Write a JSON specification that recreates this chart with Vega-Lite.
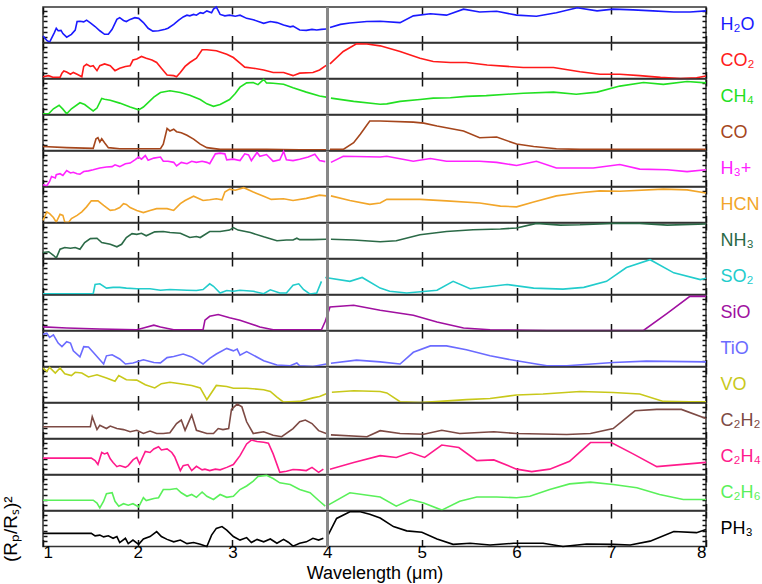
{
"$schema": "https://vega.github.io/schema/vega-lite/v6.json",
"padding": {"left": 0, "top": 3, "right": 0, "bottom": 0},
"spacing": 0,
"bounds": "flush",
"config": {
 "font": "Liberation Sans",
 "view": {"stroke": "#333", "strokeWidth": 1.5},
 "concat": {"spacing": 0},
 "axis": {"domain": false, "grid": false, "minExtent": 0, "tickColor": "#111", "tickWidth": 1.5, "labelFontSize": 17, "labelColor": "#000", "titleFontSize": 18, "titleFontWeight": "normal", "titleColor": "#000"},
 "axisX": {"tickSize": -7},
 "axisY": {"tickSize": -4}
},
"datasets": {
"H2O": [{"x":1.00,"y":0.18,"s":0},{"x":1.04,"y":0.06,"s":0},{"x":1.07,"y":0.01,"s":0},{"x":1.12,"y":0.28,"s":0},{"x":1.14,"y":0.40,"s":0},{"x":1.16,"y":0.33,"s":0},{"x":1.19,"y":0.34,"s":0},{"x":1.21,"y":0.25,"s":0},{"x":1.25,"y":0.15,"s":0},{"x":1.30,"y":0.23,"s":0},{"x":1.34,"y":0.35,"s":0},{"x":1.36,"y":0.59,"s":0},{"x":1.39,"y":0.60,"s":0},{"x":1.43,"y":0.58,"s":0},{"x":1.46,"y":0.63,"s":0},{"x":1.50,"y":0.55,"s":0},{"x":1.55,"y":0.45,"s":0},{"x":1.60,"y":0.33,"s":0},{"x":1.65,"y":0.23,"s":0},{"x":1.69,"y":0.23,"s":0},{"x":1.73,"y":0.37,"s":0},{"x":1.78,"y":0.65,"s":0},{"x":1.81,"y":0.70,"s":0},{"x":1.85,"y":0.62,"s":0},{"x":1.88,"y":0.59,"s":0},{"x":1.92,"y":0.65,"s":0},{"x":1.97,"y":0.70,"s":0},{"x":2.01,"y":0.68,"s":0},{"x":2.06,"y":0.56,"s":0},{"x":2.11,"y":0.40,"s":0},{"x":2.16,"y":0.32,"s":0},{"x":2.22,"y":0.33,"s":0},{"x":2.29,"y":0.37,"s":0},{"x":2.32,"y":0.40,"s":0},{"x":2.38,"y":0.51,"s":0},{"x":2.43,"y":0.62,"s":0},{"x":2.48,"y":0.72,"s":0},{"x":2.52,"y":0.77,"s":0},{"x":2.55,"y":0.75,"s":0},{"x":2.59,"y":0.79,"s":0},{"x":2.62,"y":0.77,"s":0},{"x":2.66,"y":0.84,"s":0},{"x":2.69,"y":0.82,"s":0},{"x":2.73,"y":0.89,"s":0},{"x":2.78,"y":0.84,"s":0},{"x":2.80,"y":0.94,"s":0},{"x":2.83,"y":1.0,"s":0},{"x":2.85,"y":0.90,"s":0},{"x":2.87,"y":0.79,"s":0},{"x":2.92,"y":0.75,"s":0},{"x":2.97,"y":0.77,"s":0},{"x":3.03,"y":0.74,"s":0},{"x":3.08,"y":0.77,"s":0},{"x":3.15,"y":0.68,"s":0},{"x":3.22,"y":0.64,"s":0},{"x":3.33,"y":0.54,"s":0},{"x":3.40,"y":0.59,"s":0},{"x":3.47,"y":0.56,"s":0},{"x":3.54,"y":0.49,"s":0},{"x":3.61,"y":0.44,"s":0},{"x":3.64,"y":0.46,"s":0},{"x":3.71,"y":0.35,"s":0},{"x":3.78,"y":0.34,"s":0},{"x":3.84,"y":0.37,"s":0},{"x":3.89,"y":0.35,"s":0},{"x":3.94,"y":0.37,"s":0},{"x":3.99,"y":0.38,"s":0},
{"x":4.03,"y":0.42,"s":1},{"x":4.14,"y":0.51,"s":1},{"x":4.24,"y":0.55,"s":1},{"x":4.42,"y":0.59,"s":1},{"x":4.56,"y":0.60,"s":1},{"x":4.77,"y":0.56,"s":1},{"x":4.91,"y":0.75,"s":1},{"x":5.09,"y":0.81,"s":1},{"x":5.26,"y":0.77,"s":1},{"x":5.44,"y":0.94,"s":1},{"x":5.61,"y":0.86,"s":1},{"x":5.79,"y":0.88,"s":1},{"x":6.00,"y":0.77,"s":1},{"x":6.21,"y":0.74,"s":1},{"x":6.42,"y":0.84,"s":1},{"x":6.64,"y":0.98,"s":1},{"x":6.85,"y":0.89,"s":1},{"x":7.02,"y":0.94,"s":1},{"x":7.23,"y":0.92,"s":1},{"x":7.44,"y":0.89,"s":1},{"x":7.66,"y":0.86,"s":1},{"x":7.83,"y":0.86,"s":1},{"x":8.00,"y":0.89,"s":1}],
"CO2": [{"x":1.00,"y":0.05,"s":0},{"x":1.06,"y":0.08,"s":0},{"x":1.11,"y":0.03,"s":0},{"x":1.18,"y":0.03,"s":0},{"x":1.20,"y":0.15,"s":0},{"x":1.22,"y":0.21,"s":0},{"x":1.25,"y":0.18,"s":0},{"x":1.29,"y":0.12,"s":0},{"x":1.32,"y":0.17,"s":0},{"x":1.36,"y":0.12,"s":0},{"x":1.41,"y":0.05,"s":0},{"x":1.43,"y":0.34,"s":0},{"x":1.46,"y":0.40,"s":0},{"x":1.50,"y":0.34,"s":0},{"x":1.53,"y":0.36,"s":0},{"x":1.57,"y":0.22,"s":0},{"x":1.60,"y":0.36,"s":0},{"x":1.65,"y":0.41,"s":0},{"x":1.71,"y":0.36,"s":0},{"x":1.76,"y":0.22,"s":0},{"x":1.81,"y":0.29,"s":0},{"x":1.87,"y":0.34,"s":0},{"x":1.92,"y":0.36,"s":0},{"x":1.95,"y":0.52,"s":0},{"x":1.99,"y":0.55,"s":0},{"x":2.04,"y":0.62,"s":0},{"x":2.09,"y":0.57,"s":0},{"x":2.15,"y":0.52,"s":0},{"x":2.20,"y":0.45,"s":0},{"x":2.25,"y":0.29,"s":0},{"x":2.31,"y":0.10,"s":0},{"x":2.38,"y":0.08,"s":0},{"x":2.41,"y":0.05,"s":0},{"x":2.45,"y":0.17,"s":0},{"x":2.50,"y":0.34,"s":0},{"x":2.55,"y":0.45,"s":0},{"x":2.62,"y":0.57,"s":0},{"x":2.68,"y":0.81,"s":0},{"x":2.73,"y":0.81,"s":0},{"x":2.83,"y":0.78,"s":0},{"x":2.94,"y":0.68,"s":0},{"x":3.01,"y":0.59,"s":0},{"x":3.08,"y":0.43,"s":0},{"x":3.13,"y":0.32,"s":0},{"x":3.22,"y":0.29,"s":0},{"x":3.33,"y":0.24,"s":0},{"x":3.43,"y":0.17,"s":0},{"x":3.54,"y":0.17,"s":0},{"x":3.64,"y":0.08,"s":0},{"x":3.71,"y":0.15,"s":0},{"x":3.85,"y":0.17,"s":0},{"x":3.92,"y":0.24,"s":0},{"x":3.99,"y":0.37,"s":0},
{"x":4.03,"y":0.41,"s":1},{"x":4.17,"y":0.76,"s":1},{"x":4.31,"y":0.98,"s":1},{"x":4.42,"y":0.97,"s":1},{"x":4.56,"y":0.92,"s":1},{"x":4.77,"y":0.76,"s":1},{"x":4.98,"y":0.57,"s":1},{"x":5.12,"y":0.48,"s":1},{"x":5.30,"y":0.45,"s":1},{"x":5.47,"y":0.45,"s":1},{"x":5.69,"y":0.38,"s":1},{"x":5.90,"y":0.34,"s":1},{"x":6.07,"y":0.31,"s":1},{"x":6.39,"y":0.31,"s":1},{"x":6.67,"y":0.19,"s":1},{"x":6.88,"y":0.12,"s":1},{"x":7.09,"y":0.12,"s":1},{"x":7.30,"y":0.08,"s":1},{"x":7.52,"y":0.03,"s":1},{"x":7.73,"y":0.0,"s":1},{"x":7.90,"y":0.02,"s":1},{"x":8.00,"y":0.07,"s":1}],
"CH4": [{"x":1.00,"y":0.02,"s":0},{"x":1.06,"y":0.02,"s":0},{"x":1.11,"y":0.16,"s":0},{"x":1.17,"y":0.26,"s":0},{"x":1.21,"y":0.15,"s":0},{"x":1.25,"y":0.02,"s":0},{"x":1.30,"y":0.16,"s":0},{"x":1.39,"y":0.33,"s":0},{"x":1.44,"y":0.28,"s":0},{"x":1.50,"y":0.16,"s":0},{"x":1.53,"y":0.10,"s":0},{"x":1.57,"y":0.18,"s":0},{"x":1.62,"y":0.45,"s":0},{"x":1.65,"y":0.43,"s":0},{"x":1.71,"y":0.40,"s":0},{"x":1.81,"y":0.32,"s":0},{"x":1.92,"y":0.21,"s":0},{"x":2.01,"y":0.13,"s":0},{"x":2.06,"y":0.21,"s":0},{"x":2.17,"y":0.49,"s":0},{"x":2.24,"y":0.62,"s":0},{"x":2.34,"y":0.67,"s":0},{"x":2.45,"y":0.62,"s":0},{"x":2.55,"y":0.54,"s":0},{"x":2.66,"y":0.42,"s":0},{"x":2.73,"y":0.30,"s":0},{"x":2.80,"y":0.23,"s":0},{"x":2.87,"y":0.28,"s":0},{"x":2.97,"y":0.42,"s":0},{"x":3.03,"y":0.59,"s":0},{"x":3.08,"y":0.77,"s":0},{"x":3.15,"y":0.89,"s":0},{"x":3.22,"y":0.90,"s":0},{"x":3.27,"y":0.84,"s":0},{"x":3.33,"y":0.99,"s":0},{"x":3.36,"y":0.89,"s":0},{"x":3.43,"y":0.88,"s":0},{"x":3.54,"y":0.85,"s":0},{"x":3.64,"y":0.75,"s":0},{"x":3.78,"y":0.63,"s":0},{"x":3.92,"y":0.52,"s":0},{"x":3.99,"y":0.49,"s":0},
{"x":4.04,"y":0.46,"s":1},{"x":4.28,"y":0.37,"s":1},{"x":4.56,"y":0.29,"s":1},{"x":4.63,"y":0.30,"s":1},{"x":4.77,"y":0.37,"s":1},{"x":4.98,"y":0.42,"s":1},{"x":5.12,"y":0.46,"s":1},{"x":5.30,"y":0.47,"s":1},{"x":5.47,"y":0.51,"s":1},{"x":5.68,"y":0.53,"s":1},{"x":5.90,"y":0.57,"s":1},{"x":6.07,"y":0.60,"s":1},{"x":6.39,"y":0.63,"s":1},{"x":6.63,"y":0.57,"s":1},{"x":6.85,"y":0.63,"s":1},{"x":7.09,"y":0.80,"s":1},{"x":7.34,"y":0.90,"s":1},{"x":7.55,"y":0.85,"s":1},{"x":7.80,"y":0.93,"s":1},{"x":8.00,"y":0.89,"s":1}],
"CO": [{"x":1.00,"y":0.11,"s":0},{"x":1.25,"y":0.08,"s":0},{"x":1.53,"y":0.06,"s":0},{"x":1.56,"y":0.33,"s":0},{"x":1.58,"y":0.36,"s":0},{"x":1.60,"y":0.24,"s":0},{"x":1.62,"y":0.33,"s":0},{"x":1.65,"y":0.22,"s":0},{"x":1.69,"y":0.08,"s":0},{"x":1.81,"y":0.05,"s":0},{"x":1.99,"y":0.05,"s":0},{"x":2.24,"y":0.05,"s":0},{"x":2.27,"y":0.18,"s":0},{"x":2.31,"y":0.62,"s":0},{"x":2.34,"y":0.55,"s":0},{"x":2.38,"y":0.60,"s":0},{"x":2.41,"y":0.53,"s":0},{"x":2.46,"y":0.50,"s":0},{"x":2.52,"y":0.43,"s":0},{"x":2.59,"y":0.32,"s":0},{"x":2.66,"y":0.18,"s":0},{"x":2.73,"y":0.08,"s":0},{"x":2.87,"y":0.03,"s":0},{"x":3.01,"y":0.03,"s":0},{"x":3.36,"y":0.03,"s":0},{"x":3.71,"y":0.02,"s":0},{"x":3.99,"y":0.02,"s":0},
{"x":4.03,"y":0.03,"s":1},{"x":4.17,"y":0.03,"s":1},{"x":4.28,"y":0.22,"s":1},{"x":4.35,"y":0.46,"s":1},{"x":4.45,"y":0.83,"s":1},{"x":4.56,"y":0.83,"s":1},{"x":4.91,"y":0.80,"s":1},{"x":5.02,"y":0.77,"s":1},{"x":5.16,"y":0.69,"s":1},{"x":5.44,"y":0.55,"s":1},{"x":5.61,"y":0.36,"s":1},{"x":5.79,"y":0.38,"s":1},{"x":6.00,"y":0.18,"s":1},{"x":6.18,"y":0.11,"s":1},{"x":6.42,"y":0.05,"s":1},{"x":6.67,"y":0.03,"s":1},{"x":8.00,"y":0.03,"s":1}],
"H3": [{"x":1.00,"y":0.05,"s":0},{"x":1.04,"y":0.02,"s":0},{"x":1.07,"y":0.14,"s":0},{"x":1.09,"y":0.28,"s":0},{"x":1.13,"y":0.24,"s":0},{"x":1.14,"y":0.33,"s":0},{"x":1.18,"y":0.36,"s":0},{"x":1.21,"y":0.31,"s":0},{"x":1.25,"y":0.45,"s":0},{"x":1.29,"y":0.38,"s":0},{"x":1.32,"y":0.40,"s":0},{"x":1.36,"y":0.36,"s":0},{"x":1.39,"y":0.35,"s":0},{"x":1.43,"y":0.42,"s":0},{"x":1.48,"y":0.44,"s":0},{"x":1.53,"y":0.47,"s":0},{"x":1.60,"y":0.52,"s":0},{"x":1.67,"y":0.55,"s":0},{"x":1.73,"y":0.56,"s":0},{"x":1.76,"y":0.61,"s":0},{"x":1.81,"y":0.56,"s":0},{"x":1.87,"y":0.64,"s":0},{"x":1.92,"y":0.66,"s":0},{"x":1.97,"y":0.75,"s":0},{"x":2.01,"y":0.83,"s":0},{"x":2.04,"y":0.77,"s":0},{"x":2.08,"y":0.87,"s":0},{"x":2.11,"y":0.74,"s":0},{"x":2.17,"y":0.80,"s":0},{"x":2.24,"y":0.83,"s":0},{"x":2.27,"y":0.71,"s":0},{"x":2.32,"y":0.71,"s":0},{"x":2.38,"y":0.68,"s":0},{"x":2.41,"y":0.58,"s":0},{"x":2.46,"y":0.68,"s":0},{"x":2.52,"y":0.64,"s":0},{"x":2.57,"y":0.71,"s":0},{"x":2.62,"y":0.68,"s":0},{"x":2.68,"y":0.71,"s":0},{"x":2.73,"y":0.68,"s":0},{"x":2.76,"y":0.64,"s":0},{"x":2.82,"y":0.92,"s":0},{"x":2.87,"y":0.94,"s":0},{"x":2.92,"y":0.92,"s":0},{"x":2.94,"y":0.75,"s":0},{"x":3.01,"y":0.77,"s":0},{"x":3.08,"y":0.73,"s":0},{"x":3.13,"y":0.92,"s":0},{"x":3.17,"y":0.89,"s":0},{"x":3.20,"y":0.73,"s":0},{"x":3.26,"y":0.96,"s":0},{"x":3.29,"y":0.85,"s":0},{"x":3.36,"y":0.90,"s":0},{"x":3.43,"y":0.71,"s":0},{"x":3.50,"y":0.75,"s":0},{"x":3.54,"y":0.99,"s":0},{"x":3.57,"y":0.75,"s":0},{"x":3.64,"y":0.73,"s":0},{"x":3.71,"y":0.77,"s":0},{"x":3.80,"y":0.83,"s":0},{"x":3.87,"y":0.91,"s":0},{"x":3.92,"y":0.73,"s":0},{"x":3.98,"y":0.70,"s":0},
{"x":4.04,"y":0.68,"s":1},{"x":4.17,"y":0.85,"s":1},{"x":4.56,"y":0.83,"s":1},{"x":4.63,"y":0.85,"s":1},{"x":4.91,"y":0.71,"s":1},{"x":5.09,"y":0.79,"s":1},{"x":5.26,"y":0.71,"s":1},{"x":5.61,"y":0.71,"s":1},{"x":5.79,"y":0.68,"s":1},{"x":6.00,"y":0.59,"s":1},{"x":6.21,"y":0.71,"s":1},{"x":6.42,"y":0.52,"s":1},{"x":6.81,"y":0.52,"s":1},{"x":7.09,"y":0.62,"s":1},{"x":7.30,"y":0.49,"s":1},{"x":7.59,"y":0.47,"s":1},{"x":7.80,"y":0.42,"s":1},{"x":8.00,"y":0.47,"s":1}],
"HCN": [{"x":1.00,"y":0.06,"s":0},{"x":1.04,"y":0.30,"s":0},{"x":1.07,"y":0.25,"s":0},{"x":1.11,"y":0.14,"s":0},{"x":1.14,"y":0.01,"s":0},{"x":1.18,"y":0.23,"s":0},{"x":1.21,"y":0.20,"s":0},{"x":1.23,"y":0.01,"s":0},{"x":1.27,"y":0.0,"s":0},{"x":1.30,"y":0.11,"s":0},{"x":1.36,"y":0.20,"s":0},{"x":1.41,"y":0.30,"s":0},{"x":1.46,"y":0.44,"s":0},{"x":1.51,"y":0.61,"s":0},{"x":1.58,"y":0.61,"s":0},{"x":1.64,"y":0.48,"s":0},{"x":1.71,"y":0.34,"s":0},{"x":1.76,"y":0.36,"s":0},{"x":1.81,"y":0.42,"s":0},{"x":1.85,"y":0.53,"s":0},{"x":1.88,"y":0.51,"s":0},{"x":1.92,"y":0.42,"s":0},{"x":1.99,"y":0.34,"s":0},{"x":2.06,"y":0.28,"s":0},{"x":2.13,"y":0.34,"s":0},{"x":2.20,"y":0.39,"s":0},{"x":2.31,"y":0.39,"s":0},{"x":2.38,"y":0.34,"s":0},{"x":2.45,"y":0.53,"s":0},{"x":2.50,"y":0.62,"s":0},{"x":2.59,"y":0.74,"s":0},{"x":2.69,"y":0.62,"s":0},{"x":2.76,"y":0.64,"s":0},{"x":2.83,"y":0.67,"s":0},{"x":2.89,"y":0.64,"s":0},{"x":2.92,"y":0.86,"s":0},{"x":2.97,"y":0.94,"s":0},{"x":3.03,"y":0.91,"s":0},{"x":3.12,"y":0.98,"s":0},{"x":3.22,"y":0.86,"s":0},{"x":3.33,"y":0.74,"s":0},{"x":3.41,"y":0.65,"s":0},{"x":3.54,"y":0.67,"s":0},{"x":3.64,"y":0.62,"s":0},{"x":3.78,"y":0.68,"s":0},{"x":3.92,"y":0.77,"s":0},{"x":3.99,"y":0.75,"s":0},
{"x":4.04,"y":0.75,"s":1},{"x":4.24,"y":0.62,"s":1},{"x":4.45,"y":0.51,"s":1},{"x":4.56,"y":0.55,"s":1},{"x":4.63,"y":0.65,"s":1},{"x":4.98,"y":0.65,"s":1},{"x":5.26,"y":0.61,"s":1},{"x":5.61,"y":0.55,"s":1},{"x":5.83,"y":0.46,"s":1},{"x":6.00,"y":0.44,"s":1},{"x":6.18,"y":0.58,"s":1},{"x":6.42,"y":0.75,"s":1},{"x":6.67,"y":0.84,"s":1},{"x":6.88,"y":0.89,"s":1},{"x":7.09,"y":0.88,"s":1},{"x":7.55,"y":0.94,"s":1},{"x":7.80,"y":0.92,"s":1},{"x":8.00,"y":0.83,"s":1}],
"NH3": [{"x":1.00,"y":0.17,"s":0},{"x":1.06,"y":0.19,"s":0},{"x":1.11,"y":0.09,"s":0},{"x":1.14,"y":0.01,"s":0},{"x":1.18,"y":0.26,"s":0},{"x":1.23,"y":0.31,"s":0},{"x":1.29,"y":0.29,"s":0},{"x":1.34,"y":0.31,"s":0},{"x":1.39,"y":0.26,"s":0},{"x":1.44,"y":0.45,"s":0},{"x":1.50,"y":0.56,"s":0},{"x":1.57,"y":0.57,"s":0},{"x":1.62,"y":0.45,"s":0},{"x":1.71,"y":0.40,"s":0},{"x":1.78,"y":0.33,"s":0},{"x":1.83,"y":0.40,"s":0},{"x":1.88,"y":0.59,"s":0},{"x":1.94,"y":0.70,"s":0},{"x":1.99,"y":0.68,"s":0},{"x":2.04,"y":0.71,"s":0},{"x":2.09,"y":0.64,"s":0},{"x":2.18,"y":0.75,"s":0},{"x":2.27,"y":0.76,"s":0},{"x":2.34,"y":0.73,"s":0},{"x":2.45,"y":0.71,"s":0},{"x":2.55,"y":0.59,"s":0},{"x":2.62,"y":0.62,"s":0},{"x":2.66,"y":0.59,"s":0},{"x":2.76,"y":0.76,"s":0},{"x":2.87,"y":0.76,"s":0},{"x":2.97,"y":0.80,"s":0},{"x":3.01,"y":0.87,"s":0},{"x":3.06,"y":0.80,"s":0},{"x":3.19,"y":0.73,"s":0},{"x":3.33,"y":0.61,"s":0},{"x":3.47,"y":0.50,"s":0},{"x":3.57,"y":0.52,"s":0},{"x":3.64,"y":0.52,"s":0},{"x":3.68,"y":0.57,"s":0},{"x":3.71,"y":0.53,"s":0},{"x":3.85,"y":0.53,"s":0},{"x":3.99,"y":0.54,"s":0},
{"x":4.04,"y":0.54,"s":1},{"x":4.28,"y":0.52,"s":1},{"x":4.56,"y":0.47,"s":1},{"x":4.73,"y":0.50,"s":1},{"x":4.98,"y":0.67,"s":1},{"x":5.26,"y":0.76,"s":1},{"x":5.54,"y":0.81,"s":1},{"x":5.83,"y":0.83,"s":1},{"x":6.00,"y":0.86,"s":1},{"x":6.21,"y":0.99,"s":1},{"x":6.46,"y":0.94,"s":1},{"x":6.67,"y":0.95,"s":1},{"x":7.02,"y":0.99,"s":1},{"x":7.30,"y":0.99,"s":1},{"x":7.59,"y":0.94,"s":1},{"x":8.00,"y":0.97,"s":1}],
"SO2": [{"x":1.00,"y":0.02,"s":0},{"x":1.53,"y":0.02,"s":0},{"x":1.55,"y":0.28,"s":0},{"x":1.60,"y":0.30,"s":0},{"x":1.67,"y":0.18,"s":0},{"x":1.74,"y":0.20,"s":0},{"x":1.81,"y":0.20,"s":0},{"x":1.88,"y":0.18,"s":0},{"x":1.99,"y":0.16,"s":0},{"x":2.13,"y":0.16,"s":0},{"x":2.24,"y":0.12,"s":0},{"x":2.34,"y":0.14,"s":0},{"x":2.52,"y":0.12,"s":0},{"x":2.62,"y":0.11,"s":0},{"x":2.69,"y":0.14,"s":0},{"x":2.76,"y":0.30,"s":0},{"x":2.80,"y":0.23,"s":0},{"x":2.87,"y":0.04,"s":0},{"x":2.94,"y":0.11,"s":0},{"x":3.01,"y":0.09,"s":0},{"x":3.08,"y":0.12,"s":0},{"x":3.22,"y":0.09,"s":0},{"x":3.33,"y":0.02,"s":0},{"x":3.40,"y":0.13,"s":0},{"x":3.50,"y":0.04,"s":0},{"x":3.57,"y":0.04,"s":0},{"x":3.64,"y":0.26,"s":0},{"x":3.70,"y":0.30,"s":0},{"x":3.75,"y":0.14,"s":0},{"x":3.82,"y":0.01,"s":0},{"x":3.89,"y":0.04,"s":0},{"x":3.94,"y":0.37,"s":0},
{"x":3.98,"y":0.48,"s":1},{"x":4.24,"y":0.37,"s":1},{"x":4.37,"y":0.48,"s":1},{"x":4.56,"y":0.18,"s":1},{"x":4.66,"y":0.09,"s":1},{"x":4.84,"y":0.04,"s":1},{"x":5.16,"y":0.12,"s":1},{"x":5.33,"y":0.37,"s":1},{"x":5.51,"y":0.16,"s":1},{"x":5.90,"y":0.28,"s":1},{"x":6.18,"y":0.18,"s":1},{"x":6.49,"y":0.15,"s":1},{"x":6.71,"y":0.20,"s":1},{"x":6.95,"y":0.37,"s":1},{"x":7.16,"y":0.76,"s":1},{"x":7.41,"y":0.98,"s":1},{"x":7.66,"y":0.61,"s":1},{"x":7.94,"y":0.42,"s":1},{"x":8.00,"y":0.46,"s":1}],
"SiO": [{"x":1.00,"y":0.10,"s":0},{"x":1.25,"y":0.07,"s":0},{"x":1.60,"y":0.04,"s":0},{"x":1.99,"y":0.02,"s":0},{"x":2.06,"y":0.07,"s":0},{"x":2.17,"y":0.15,"s":0},{"x":2.24,"y":0.10,"s":0},{"x":2.38,"y":0.02,"s":0},{"x":2.52,"y":0.02,"s":0},{"x":2.69,"y":0.02,"s":0},{"x":2.71,"y":0.29,"s":0},{"x":2.76,"y":0.40,"s":0},{"x":2.85,"y":0.45,"s":0},{"x":2.97,"y":0.36,"s":0},{"x":3.08,"y":0.29,"s":0},{"x":3.19,"y":0.19,"s":0},{"x":3.29,"y":0.10,"s":0},{"x":3.43,"y":0.02,"s":0},{"x":3.71,"y":0.02,"s":0},{"x":3.94,"y":0.02,"s":0},{"x":3.98,"y":0.26,"s":0},{"x":4.03,"y":0.66,"s":0},{"x":4.28,"y":0.71,"s":0},{"x":4.56,"y":0.57,"s":0},{"x":4.91,"y":0.43,"s":0},{"x":5.16,"y":0.24,"s":0},{"x":5.44,"y":0.07,"s":0},{"x":5.72,"y":0.02,"s":0},{"x":6.32,"y":0.0,"s":0},{"x":7.34,"y":0.0,"s":0},{"x":7.59,"y":0.48,"s":0},{"x":7.83,"y":0.96,"s":0},{"x":8.00,"y":0.96,"s":0}],
"TiO": [{"x":1.00,"y":0.91,"s":0},{"x":1.04,"y":0.94,"s":0},{"x":1.07,"y":0.82,"s":0},{"x":1.11,"y":0.89,"s":0},{"x":1.16,"y":0.66,"s":0},{"x":1.20,"y":0.56,"s":0},{"x":1.25,"y":0.70,"s":0},{"x":1.29,"y":0.66,"s":0},{"x":1.32,"y":0.44,"s":0},{"x":1.39,"y":0.27,"s":0},{"x":1.43,"y":0.56,"s":0},{"x":1.48,"y":0.55,"s":0},{"x":1.53,"y":0.40,"s":0},{"x":1.60,"y":0.19,"s":0},{"x":1.64,"y":0.07,"s":0},{"x":1.67,"y":0.30,"s":0},{"x":1.73,"y":0.33,"s":0},{"x":1.81,"y":0.21,"s":0},{"x":1.87,"y":0.07,"s":0},{"x":1.95,"y":0.10,"s":0},{"x":2.06,"y":0.19,"s":0},{"x":2.17,"y":0.11,"s":0},{"x":2.24,"y":0.10,"s":0},{"x":2.31,"y":0.25,"s":0},{"x":2.38,"y":0.28,"s":0},{"x":2.48,"y":0.35,"s":0},{"x":2.57,"y":0.27,"s":0},{"x":2.69,"y":0.07,"s":0},{"x":2.76,"y":0.23,"s":0},{"x":2.83,"y":0.35,"s":0},{"x":2.94,"y":0.51,"s":0},{"x":3.01,"y":0.44,"s":0},{"x":3.05,"y":0.49,"s":0},{"x":3.08,"y":0.32,"s":0},{"x":3.15,"y":0.42,"s":0},{"x":3.22,"y":0.32,"s":0},{"x":3.33,"y":0.16,"s":0},{"x":3.47,"y":0.04,"s":0},{"x":3.61,"y":0.02,"s":0},{"x":3.68,"y":0.10,"s":0},{"x":3.71,"y":0.02,"s":0},{"x":3.85,"y":0.0,"s":0},{"x":3.99,"y":0.07,"s":0},
{"x":4.04,"y":0.09,"s":1},{"x":4.31,"y":0.18,"s":1},{"x":4.56,"y":0.13,"s":1},{"x":4.77,"y":0.07,"s":1},{"x":4.91,"y":0.40,"s":1},{"x":5.09,"y":0.58,"s":1},{"x":5.26,"y":0.58,"s":1},{"x":5.47,"y":0.47,"s":1},{"x":5.72,"y":0.30,"s":1},{"x":6.00,"y":0.16,"s":1},{"x":6.32,"y":0.02,"s":1},{"x":6.53,"y":0.02,"s":1},{"x":7.02,"y":0.11,"s":1},{"x":7.37,"y":0.15,"s":1},{"x":8.00,"y":0.13,"s":1}],
"VO": [{"x":1.00,"y":0.97,"s":0},{"x":1.04,"y":0.88,"s":0},{"x":1.07,"y":0.99,"s":0},{"x":1.13,"y":0.83,"s":0},{"x":1.18,"y":0.97,"s":0},{"x":1.23,"y":0.81,"s":0},{"x":1.30,"y":0.76,"s":0},{"x":1.34,"y":0.85,"s":0},{"x":1.41,"y":0.83,"s":0},{"x":1.48,"y":0.72,"s":0},{"x":1.57,"y":0.78,"s":0},{"x":1.67,"y":0.69,"s":0},{"x":1.76,"y":0.60,"s":0},{"x":1.80,"y":0.76,"s":0},{"x":1.88,"y":0.64,"s":0},{"x":1.99,"y":0.63,"s":0},{"x":2.08,"y":0.50,"s":0},{"x":2.18,"y":0.41,"s":0},{"x":2.25,"y":0.53,"s":0},{"x":2.34,"y":0.57,"s":0},{"x":2.45,"y":0.53,"s":0},{"x":2.57,"y":0.48,"s":0},{"x":2.66,"y":0.41,"s":0},{"x":2.73,"y":0.08,"s":0},{"x":2.83,"y":0.48,"s":0},{"x":2.94,"y":0.45,"s":0},{"x":3.01,"y":0.40,"s":0},{"x":3.15,"y":0.40,"s":0},{"x":3.33,"y":0.36,"s":0},{"x":3.40,"y":0.31,"s":0},{"x":3.47,"y":0.15,"s":0},{"x":3.54,"y":0.01,"s":0},{"x":3.71,"y":0.03,"s":0},{"x":3.85,"y":0.13,"s":0},{"x":3.92,"y":0.17,"s":0},{"x":4.01,"y":0.27,"s":0},
{"x":4.05,"y":0.29,"s":1},{"x":4.28,"y":0.33,"s":1},{"x":4.56,"y":0.31,"s":1},{"x":4.63,"y":0.27,"s":1},{"x":4.77,"y":0.02,"s":1},{"x":4.98,"y":0.0,"s":1},{"x":5.19,"y":0.03,"s":1},{"x":5.47,"y":0.08,"s":1},{"x":5.72,"y":0.11,"s":1},{"x":6.00,"y":0.21,"s":1},{"x":6.28,"y":0.24,"s":1},{"x":6.67,"y":0.31,"s":1},{"x":7.02,"y":0.28,"s":1},{"x":7.30,"y":0.24,"s":1},{"x":7.55,"y":0.03,"s":1},{"x":7.83,"y":0.02,"s":1},{"x":8.00,"y":0.02,"s":1}],
"C2H2": [{"x":1.00,"y":0.33,"s":0},{"x":1.50,"y":0.33,"s":0},{"x":1.52,"y":0.61,"s":0},{"x":1.57,"y":0.25,"s":0},{"x":1.60,"y":0.37,"s":0},{"x":1.67,"y":0.28,"s":0},{"x":1.71,"y":0.35,"s":0},{"x":1.78,"y":0.28,"s":0},{"x":1.85,"y":0.25,"s":0},{"x":1.92,"y":0.19,"s":0},{"x":1.99,"y":0.23,"s":0},{"x":2.06,"y":0.14,"s":0},{"x":2.13,"y":0.21,"s":0},{"x":2.20,"y":0.14,"s":0},{"x":2.27,"y":0.14,"s":0},{"x":2.34,"y":0.16,"s":0},{"x":2.41,"y":0.42,"s":0},{"x":2.46,"y":0.52,"s":0},{"x":2.50,"y":0.23,"s":0},{"x":2.57,"y":0.66,"s":0},{"x":2.62,"y":0.23,"s":0},{"x":2.73,"y":0.14,"s":0},{"x":2.80,"y":0.14,"s":0},{"x":2.85,"y":0.28,"s":0},{"x":2.90,"y":0.25,"s":0},{"x":2.96,"y":0.28,"s":0},{"x":2.99,"y":0.82,"s":0},{"x":3.05,"y":0.97,"s":0},{"x":3.10,"y":0.89,"s":0},{"x":3.15,"y":0.47,"s":0},{"x":3.22,"y":0.14,"s":0},{"x":3.33,"y":0.19,"s":0},{"x":3.43,"y":0.09,"s":0},{"x":3.52,"y":0.05,"s":0},{"x":3.64,"y":0.28,"s":0},{"x":3.71,"y":0.47,"s":0},{"x":3.77,"y":0.52,"s":0},{"x":3.84,"y":0.42,"s":0},{"x":3.91,"y":0.22,"s":0},{"x":3.99,"y":0.14,"s":0},
{"x":4.04,"y":0.10,"s":1},{"x":4.42,"y":0.05,"s":1},{"x":4.56,"y":0.22,"s":1},{"x":4.77,"y":0.14,"s":1},{"x":5.02,"y":0.12,"s":1},{"x":5.21,"y":0.23,"s":1},{"x":5.40,"y":0.14,"s":1},{"x":5.76,"y":0.19,"s":1},{"x":6.00,"y":0.14,"s":1},{"x":6.53,"y":0.11,"s":1},{"x":6.78,"y":0.14,"s":1},{"x":7.02,"y":0.28,"s":1},{"x":7.25,"y":0.78,"s":1},{"x":7.48,"y":0.82,"s":1},{"x":7.74,"y":0.82,"s":1},{"x":8.00,"y":0.56,"s":1}],
"C2H4": [{"x":1.00,"y":0.46,"s":0},{"x":1.51,"y":0.46,"s":0},{"x":1.55,"y":0.39,"s":0},{"x":1.58,"y":0.28,"s":0},{"x":1.62,"y":0.62,"s":0},{"x":1.65,"y":0.58,"s":0},{"x":1.68,"y":0.61,"s":0},{"x":1.71,"y":0.44,"s":0},{"x":1.74,"y":0.34,"s":0},{"x":1.78,"y":0.22,"s":0},{"x":1.81,"y":0.25,"s":0},{"x":1.87,"y":0.20,"s":0},{"x":1.90,"y":0.25,"s":0},{"x":1.95,"y":0.41,"s":0},{"x":1.99,"y":0.48,"s":0},{"x":2.02,"y":0.30,"s":0},{"x":2.08,"y":0.65,"s":0},{"x":2.13,"y":0.62,"s":0},{"x":2.17,"y":0.72,"s":0},{"x":2.22,"y":0.78,"s":0},{"x":2.25,"y":0.69,"s":0},{"x":2.31,"y":0.72,"s":0},{"x":2.36,"y":0.62,"s":0},{"x":2.39,"y":0.50,"s":0},{"x":2.45,"y":0.11,"s":0},{"x":2.48,"y":0.25,"s":0},{"x":2.53,"y":0.28,"s":0},{"x":2.57,"y":0.11,"s":0},{"x":2.62,"y":0.23,"s":0},{"x":2.68,"y":0.13,"s":0},{"x":2.71,"y":0.15,"s":0},{"x":2.76,"y":0.11,"s":0},{"x":2.82,"y":0.15,"s":0},{"x":2.87,"y":0.13,"s":0},{"x":2.94,"y":0.20,"s":0},{"x":3.01,"y":0.28,"s":0},{"x":3.08,"y":0.53,"s":0},{"x":3.15,"y":0.86,"s":0},{"x":3.20,"y":0.97,"s":0},{"x":3.26,"y":0.93,"s":0},{"x":3.33,"y":0.91,"s":0},{"x":3.38,"y":0.88,"s":0},{"x":3.43,"y":0.58,"s":0},{"x":3.50,"y":0.06,"s":0},{"x":3.57,"y":0.09,"s":0},{"x":3.64,"y":0.14,"s":0},{"x":3.71,"y":0.13,"s":0},{"x":3.78,"y":0.11,"s":0},{"x":3.84,"y":0.20,"s":0},{"x":3.91,"y":0.06,"s":0},{"x":3.96,"y":0.15,"s":0},
{"x":4.03,"y":0.15,"s":1},{"x":4.28,"y":0.34,"s":1},{"x":4.56,"y":0.53,"s":1},{"x":4.73,"y":0.48,"s":1},{"x":4.88,"y":0.62,"s":1},{"x":5.03,"y":0.48,"s":1},{"x":5.21,"y":0.83,"s":1},{"x":5.39,"y":0.76,"s":1},{"x":5.58,"y":0.39,"s":1},{"x":5.76,"y":0.41,"s":1},{"x":6.00,"y":0.15,"s":1},{"x":6.16,"y":0.08,"s":1},{"x":6.35,"y":0.15,"s":1},{"x":6.56,"y":0.37,"s":1},{"x":6.78,"y":0.90,"s":1},{"x":7.00,"y":0.90,"s":1},{"x":7.23,"y":0.58,"s":1},{"x":7.48,"y":0.22,"s":1},{"x":8.00,"y":0.34,"s":1}],
"C2H6": [{"x":1.00,"y":0.29,"s":0},{"x":1.53,"y":0.29,"s":0},{"x":1.57,"y":0.21,"s":0},{"x":1.60,"y":0.07,"s":0},{"x":1.64,"y":0.26,"s":0},{"x":1.67,"y":0.47,"s":0},{"x":1.73,"y":0.50,"s":0},{"x":1.76,"y":0.26,"s":0},{"x":1.80,"y":0.12,"s":0},{"x":1.85,"y":0.19,"s":0},{"x":1.90,"y":0.15,"s":0},{"x":1.95,"y":0.19,"s":0},{"x":2.01,"y":0.10,"s":0},{"x":2.06,"y":0.36,"s":0},{"x":2.09,"y":0.28,"s":0},{"x":2.17,"y":0.34,"s":0},{"x":2.22,"y":0.36,"s":0},{"x":2.27,"y":0.59,"s":0},{"x":2.34,"y":0.59,"s":0},{"x":2.41,"y":0.62,"s":0},{"x":2.46,"y":0.50,"s":0},{"x":2.52,"y":0.40,"s":0},{"x":2.57,"y":0.45,"s":0},{"x":2.62,"y":0.37,"s":0},{"x":2.68,"y":0.52,"s":0},{"x":2.73,"y":0.40,"s":0},{"x":2.80,"y":0.31,"s":0},{"x":2.87,"y":0.45,"s":0},{"x":2.94,"y":0.37,"s":0},{"x":3.01,"y":0.40,"s":0},{"x":3.08,"y":0.59,"s":0},{"x":3.15,"y":0.69,"s":0},{"x":3.22,"y":0.83,"s":0},{"x":3.27,"y":0.96,"s":0},{"x":3.36,"y":0.99,"s":0},{"x":3.43,"y":0.90,"s":0},{"x":3.50,"y":0.78,"s":0},{"x":3.61,"y":0.73,"s":0},{"x":3.71,"y":0.59,"s":0},{"x":3.82,"y":0.50,"s":0},{"x":3.92,"y":0.26,"s":0},{"x":3.98,"y":0.12,"s":0},
{"x":4.01,"y":0.15,"s":1},{"x":4.24,"y":0.50,"s":1},{"x":4.56,"y":0.38,"s":1},{"x":4.73,"y":0.12,"s":1},{"x":4.88,"y":0.31,"s":1},{"x":5.02,"y":0.21,"s":1},{"x":5.21,"y":0.01,"s":1},{"x":5.40,"y":0.26,"s":1},{"x":5.58,"y":0.38,"s":1},{"x":5.79,"y":0.38,"s":1},{"x":6.00,"y":0.36,"s":1},{"x":6.14,"y":0.40,"s":1},{"x":6.35,"y":0.59,"s":1},{"x":6.56,"y":0.75,"s":1},{"x":6.78,"y":0.80,"s":1},{"x":7.02,"y":0.73,"s":1},{"x":7.27,"y":0.64,"s":1},{"x":7.51,"y":0.45,"s":1},{"x":7.76,"y":0.31,"s":1},{"x":8.00,"y":0.31,"s":1}],
"PH3": [{"x":1.00,"y":0.37,"s":0},{"x":1.51,"y":0.37,"s":0},{"x":1.55,"y":0.30,"s":0},{"x":1.60,"y":0.32,"s":0},{"x":1.64,"y":0.27,"s":0},{"x":1.69,"y":0.30,"s":0},{"x":1.74,"y":0.23,"s":0},{"x":1.78,"y":0.28,"s":0},{"x":1.81,"y":0.11,"s":0},{"x":1.87,"y":0.23,"s":0},{"x":1.90,"y":0.08,"s":0},{"x":1.95,"y":0.18,"s":0},{"x":2.01,"y":0.06,"s":0},{"x":2.06,"y":0.21,"s":0},{"x":2.13,"y":0.28,"s":0},{"x":2.20,"y":0.42,"s":0},{"x":2.25,"y":0.28,"s":0},{"x":2.31,"y":0.20,"s":0},{"x":2.38,"y":0.13,"s":0},{"x":2.45,"y":0.18,"s":0},{"x":2.52,"y":0.08,"s":0},{"x":2.59,"y":0.11,"s":0},{"x":2.66,"y":0.06,"s":0},{"x":2.73,"y":0.0,"s":0},{"x":2.78,"y":0.32,"s":0},{"x":2.83,"y":0.51,"s":0},{"x":2.89,"y":0.56,"s":0},{"x":2.94,"y":0.46,"s":0},{"x":3.01,"y":0.28,"s":0},{"x":3.08,"y":0.18,"s":0},{"x":3.15,"y":0.25,"s":0},{"x":3.20,"y":0.11,"s":0},{"x":3.26,"y":0.20,"s":0},{"x":3.33,"y":0.13,"s":0},{"x":3.40,"y":0.21,"s":0},{"x":3.47,"y":0.09,"s":0},{"x":3.54,"y":0.20,"s":0},{"x":3.59,"y":0.12,"s":0},{"x":3.64,"y":0.01,"s":0},{"x":3.71,"y":0.09,"s":0},{"x":3.78,"y":0.13,"s":0},{"x":3.85,"y":0.23,"s":0},{"x":3.91,"y":0.18,"s":0},{"x":3.96,"y":0.23,"s":0},
{"x":4.01,"y":0.32,"s":1},{"x":4.10,"y":0.79,"s":1},{"x":4.24,"y":0.98,"s":1},{"x":4.35,"y":0.98,"s":1},{"x":4.45,"y":0.91,"s":1},{"x":4.56,"y":0.80,"s":1},{"x":4.70,"y":0.56,"s":1},{"x":4.84,"y":0.44,"s":1},{"x":5.00,"y":0.40,"s":1},{"x":5.16,"y":0.21,"s":1},{"x":5.33,"y":0.06,"s":1},{"x":5.51,"y":0.09,"s":1},{"x":5.72,"y":0.04,"s":1},{"x":5.97,"y":0.09,"s":1},{"x":6.28,"y":0.09,"s":1},{"x":6.49,"y":0.0,"s":1},{"x":6.74,"y":0.07,"s":1},{"x":7.02,"y":0.06,"s":1},{"x":7.20,"y":0.04,"s":1},{"x":7.41,"y":0.15,"s":1},{"x":7.66,"y":0.42,"s":1},{"x":7.90,"y":0.39,"s":1},{"x":8.00,"y":0.48,"s":1}]
},
"vconcat": [
{"data":{"name":"H2O"},"width":663,"height":35.47,"resolve":{"axis":{"x":"independent","y":"independent"}},"layer":[
 {"mark":{"type":"line","color":"#1a1aff","strokeWidth":1.6},"encoding":{"x":{"field":"x","type":"quantitative","scale":{"domain":[1,8],"nice":false},"axis":{"orient":"bottom","values":[1,2,3,4,5,6,7,8],"labels":false,"title":null}},"y":{"field":"y","type":"quantitative","scale":{"domain":[0,1],"nice":false},"axis":{"orient":"left","values":[0.15,0.3,0.45,0.6,0.75,0.9],"labels":false,"title":null}},"detail":{"field":"s"}}},
 {"mark":{"type":"line","opacity":0},"encoding":{"x":{"field":"x","type":"quantitative","axis":{"orient":"top","values":[1,2,3,4,5,6,7,8],"labels":false,"title":null}},"y":{"field":"y","type":"quantitative","axis":{"orient":"right","values":[0.15,0.3,0.45,0.6,0.75,0.9],"labels":false,"title":"H₂O","titleColor":"#1a1aff","titleAngle":0,"titleAlign":"left","titleBaseline":"middle","titleX":14,"titleY":17,"titleFontSize":18}},"detail":{"field":"s"}}},
 {"mark":{"type":"rule","color":"#888","strokeWidth":2},"encoding":{"x":{"datum":4,"type":"quantitative","axis":null}}}]},
{"data":{"name":"CO2"},"width":663,"height":35.47,"resolve":{"axis":{"x":"independent","y":"independent"}},"layer":[
 {"mark":{"type":"line","color":"#ff1a1a","strokeWidth":1.6},"encoding":{"x":{"field":"x","type":"quantitative","scale":{"domain":[1,8],"nice":false},"axis":{"orient":"bottom","values":[1,2,3,4,5,6,7,8],"labels":false,"title":null}},"y":{"field":"y","type":"quantitative","scale":{"domain":[0,1],"nice":false},"axis":{"orient":"left","values":[0.15,0.3,0.45,0.6,0.75,0.9],"labels":false,"title":null}},"detail":{"field":"s"}}},
 {"mark":{"type":"line","opacity":0},"encoding":{"x":{"field":"x","type":"quantitative","axis":{"orient":"top","values":[1,2,3,4,5,6,7,8],"labels":false,"title":null}},"y":{"field":"y","type":"quantitative","axis":{"orient":"right","values":[0.15,0.3,0.45,0.6,0.75,0.9],"labels":false,"title":"CO₂","titleColor":"#ff1a1a","titleAngle":0,"titleAlign":"left","titleBaseline":"middle","titleX":14,"titleY":17,"titleFontSize":18}},"detail":{"field":"s"}}},
 {"mark":{"type":"rule","color":"#888","strokeWidth":2},"encoding":{"x":{"datum":4,"type":"quantitative","axis":null}}}]},
{"data":{"name":"CH4"},"width":663,"height":35.47,"resolve":{"axis":{"x":"independent","y":"independent"}},"layer":[
 {"mark":{"type":"line","color":"#22e022","strokeWidth":1.6},"encoding":{"x":{"field":"x","type":"quantitative","scale":{"domain":[1,8],"nice":false},"axis":{"orient":"bottom","values":[1,2,3,4,5,6,7,8],"labels":false,"title":null}},"y":{"field":"y","type":"quantitative","scale":{"domain":[0,1],"nice":false},"axis":{"orient":"left","values":[0.15,0.3,0.45,0.6,0.75,0.9],"labels":false,"title":null}},"detail":{"field":"s"}}},
 {"mark":{"type":"line","opacity":0},"encoding":{"x":{"field":"x","type":"quantitative","axis":{"orient":"top","values":[1,2,3,4,5,6,7,8],"labels":false,"title":null}},"y":{"field":"y","type":"quantitative","axis":{"orient":"right","values":[0.15,0.3,0.45,0.6,0.75,0.9],"labels":false,"title":"CH₄","titleColor":"#22e022","titleAngle":0,"titleAlign":"left","titleBaseline":"middle","titleX":14,"titleY":17,"titleFontSize":18}},"detail":{"field":"s"}}},
 {"mark":{"type":"rule","color":"#888","strokeWidth":2},"encoding":{"x":{"datum":4,"type":"quantitative","axis":null}}}]},
{"data":{"name":"CO"},"width":663,"height":35.47,"resolve":{"axis":{"x":"independent","y":"independent"}},"layer":[
 {"mark":{"type":"line","color":"#a5461c","strokeWidth":1.6},"encoding":{"x":{"field":"x","type":"quantitative","scale":{"domain":[1,8],"nice":false},"axis":{"orient":"bottom","values":[1,2,3,4,5,6,7,8],"labels":false,"title":null}},"y":{"field":"y","type":"quantitative","scale":{"domain":[0,1],"nice":false},"axis":{"orient":"left","values":[0.15,0.3,0.45,0.6,0.75,0.9],"labels":false,"title":null}},"detail":{"field":"s"}}},
 {"mark":{"type":"line","opacity":0},"encoding":{"x":{"field":"x","type":"quantitative","axis":{"orient":"top","values":[1,2,3,4,5,6,7,8],"labels":false,"title":null}},"y":{"field":"y","type":"quantitative","axis":{"orient":"right","values":[0.15,0.3,0.45,0.6,0.75,0.9],"labels":false,"title":"CO","titleColor":"#a5461c","titleAngle":0,"titleAlign":"left","titleBaseline":"middle","titleX":14,"titleY":17,"titleFontSize":18}},"detail":{"field":"s"}}},
 {"mark":{"type":"rule","color":"#888","strokeWidth":2},"encoding":{"x":{"datum":4,"type":"quantitative","axis":null}}}]},
{"data":{"name":"H3"},"width":663,"height":35.47,"resolve":{"axis":{"x":"independent","y":"independent"}},"layer":[
 {"mark":{"type":"line","color":"#ff22ff","strokeWidth":1.6},"encoding":{"x":{"field":"x","type":"quantitative","scale":{"domain":[1,8],"nice":false},"axis":{"orient":"bottom","values":[1,2,3,4,5,6,7,8],"labels":false,"title":null}},"y":{"field":"y","type":"quantitative","scale":{"domain":[0,1],"nice":false},"axis":{"orient":"left","values":[0.15,0.3,0.45,0.6,0.75,0.9],"labels":false,"title":null}},"detail":{"field":"s"}}},
 {"mark":{"type":"line","opacity":0},"encoding":{"x":{"field":"x","type":"quantitative","axis":{"orient":"top","values":[1,2,3,4,5,6,7,8],"labels":false,"title":null}},"y":{"field":"y","type":"quantitative","axis":{"orient":"right","values":[0.15,0.3,0.45,0.6,0.75,0.9],"labels":false,"title":"H₃+","titleColor":"#ff22ff","titleAngle":0,"titleAlign":"left","titleBaseline":"middle","titleX":14,"titleY":17,"titleFontSize":18}},"detail":{"field":"s"}}},
 {"mark":{"type":"rule","color":"#888","strokeWidth":2},"encoding":{"x":{"datum":4,"type":"quantitative","axis":null}}}]},
{"data":{"name":"HCN"},"width":663,"height":35.47,"resolve":{"axis":{"x":"independent","y":"independent"}},"layer":[
 {"mark":{"type":"line","color":"#f2a62a","strokeWidth":1.6},"encoding":{"x":{"field":"x","type":"quantitative","scale":{"domain":[1,8],"nice":false},"axis":{"orient":"bottom","values":[1,2,3,4,5,6,7,8],"labels":false,"title":null}},"y":{"field":"y","type":"quantitative","scale":{"domain":[0,1],"nice":false},"axis":{"orient":"left","values":[0.15,0.3,0.45,0.6,0.75,0.9],"labels":false,"title":null}},"detail":{"field":"s"}}},
 {"mark":{"type":"line","opacity":0},"encoding":{"x":{"field":"x","type":"quantitative","axis":{"orient":"top","values":[1,2,3,4,5,6,7,8],"labels":false,"title":null}},"y":{"field":"y","type":"quantitative","axis":{"orient":"right","values":[0.15,0.3,0.45,0.6,0.75,0.9],"labels":false,"title":"HCN","titleColor":"#f2a62a","titleAngle":0,"titleAlign":"left","titleBaseline":"middle","titleX":14,"titleY":17,"titleFontSize":18}},"detail":{"field":"s"}}},
 {"mark":{"type":"rule","color":"#888","strokeWidth":2},"encoding":{"x":{"datum":4,"type":"quantitative","axis":null}}}]},
{"data":{"name":"NH3"},"width":663,"height":35.47,"resolve":{"axis":{"x":"independent","y":"independent"}},"layer":[
 {"mark":{"type":"line","color":"#2b6a47","strokeWidth":1.6},"encoding":{"x":{"field":"x","type":"quantitative","scale":{"domain":[1,8],"nice":false},"axis":{"orient":"bottom","values":[1,2,3,4,5,6,7,8],"labels":false,"title":null}},"y":{"field":"y","type":"quantitative","scale":{"domain":[0,1],"nice":false},"axis":{"orient":"left","values":[0.15,0.3,0.45,0.6,0.75,0.9],"labels":false,"title":null}},"detail":{"field":"s"}}},
 {"mark":{"type":"line","opacity":0},"encoding":{"x":{"field":"x","type":"quantitative","axis":{"orient":"top","values":[1,2,3,4,5,6,7,8],"labels":false,"title":null}},"y":{"field":"y","type":"quantitative","axis":{"orient":"right","values":[0.15,0.3,0.45,0.6,0.75,0.9],"labels":false,"title":"NH₃","titleColor":"#2b6a47","titleAngle":0,"titleAlign":"left","titleBaseline":"middle","titleX":14,"titleY":17,"titleFontSize":18}},"detail":{"field":"s"}}},
 {"mark":{"type":"rule","color":"#888","strokeWidth":2},"encoding":{"x":{"datum":4,"type":"quantitative","axis":null}}}]},
{"data":{"name":"SO2"},"width":663,"height":35.47,"resolve":{"axis":{"x":"independent","y":"independent"}},"layer":[
 {"mark":{"type":"line","color":"#22cccc","strokeWidth":1.6},"encoding":{"x":{"field":"x","type":"quantitative","scale":{"domain":[1,8],"nice":false},"axis":{"orient":"bottom","values":[1,2,3,4,5,6,7,8],"labels":false,"title":null}},"y":{"field":"y","type":"quantitative","scale":{"domain":[0,1],"nice":false},"axis":{"orient":"left","values":[0.15,0.3,0.45,0.6,0.75,0.9],"labels":false,"title":null}},"detail":{"field":"s"}}},
 {"mark":{"type":"line","opacity":0},"encoding":{"x":{"field":"x","type":"quantitative","axis":{"orient":"top","values":[1,2,3,4,5,6,7,8],"labels":false,"title":null}},"y":{"field":"y","type":"quantitative","axis":{"orient":"right","values":[0.15,0.3,0.45,0.6,0.75,0.9],"labels":false,"title":"SO₂","titleColor":"#22cccc","titleAngle":0,"titleAlign":"left","titleBaseline":"middle","titleX":14,"titleY":17,"titleFontSize":18}},"detail":{"field":"s"}}},
 {"mark":{"type":"rule","color":"#888","strokeWidth":2},"encoding":{"x":{"datum":4,"type":"quantitative","axis":null}}}]},
{"data":{"name":"SiO"},"width":663,"height":35.47,"resolve":{"axis":{"x":"independent","y":"independent"}},"layer":[
 {"mark":{"type":"line","color":"#a010a0","strokeWidth":1.6},"encoding":{"x":{"field":"x","type":"quantitative","scale":{"domain":[1,8],"nice":false},"axis":{"orient":"bottom","values":[1,2,3,4,5,6,7,8],"labels":false,"title":null}},"y":{"field":"y","type":"quantitative","scale":{"domain":[0,1],"nice":false},"axis":{"orient":"left","values":[0.15,0.3,0.45,0.6,0.75,0.9],"labels":false,"title":null}},"detail":{"field":"s"}}},
 {"mark":{"type":"line","opacity":0},"encoding":{"x":{"field":"x","type":"quantitative","axis":{"orient":"top","values":[1,2,3,4,5,6,7,8],"labels":false,"title":null}},"y":{"field":"y","type":"quantitative","axis":{"orient":"right","values":[0.15,0.3,0.45,0.6,0.75,0.9],"labels":false,"title":"SiO","titleColor":"#a010a0","titleAngle":0,"titleAlign":"left","titleBaseline":"middle","titleX":14,"titleY":17,"titleFontSize":18}},"detail":{"field":"s"}}},
 {"mark":{"type":"rule","color":"#888","strokeWidth":2},"encoding":{"x":{"datum":4,"type":"quantitative","axis":null}}}]},
{"data":{"name":"TiO"},"width":663,"height":35.47,"resolve":{"axis":{"x":"independent","y":"independent"}},"layer":[
 {"mark":{"type":"line","color":"#6b6bff","strokeWidth":1.6},"encoding":{"x":{"field":"x","type":"quantitative","scale":{"domain":[1,8],"nice":false},"axis":{"orient":"bottom","values":[1,2,3,4,5,6,7,8],"labels":false,"title":null}},"y":{"field":"y","type":"quantitative","scale":{"domain":[0,1],"nice":false},"axis":{"orient":"left","values":[0.15,0.3,0.45,0.6,0.75,0.9],"labels":false,"title":null}},"detail":{"field":"s"}}},
 {"mark":{"type":"line","opacity":0},"encoding":{"x":{"field":"x","type":"quantitative","axis":{"orient":"top","values":[1,2,3,4,5,6,7,8],"labels":false,"title":null}},"y":{"field":"y","type":"quantitative","axis":{"orient":"right","values":[0.15,0.3,0.45,0.6,0.75,0.9],"labels":false,"title":"TiO","titleColor":"#6b6bff","titleAngle":0,"titleAlign":"left","titleBaseline":"middle","titleX":14,"titleY":17,"titleFontSize":18}},"detail":{"field":"s"}}},
 {"mark":{"type":"rule","color":"#888","strokeWidth":2},"encoding":{"x":{"datum":4,"type":"quantitative","axis":null}}}]},
{"data":{"name":"VO"},"width":663,"height":35.47,"resolve":{"axis":{"x":"independent","y":"independent"}},"layer":[
 {"mark":{"type":"line","color":"#c8c81a","strokeWidth":1.6},"encoding":{"x":{"field":"x","type":"quantitative","scale":{"domain":[1,8],"nice":false},"axis":{"orient":"bottom","values":[1,2,3,4,5,6,7,8],"labels":false,"title":null}},"y":{"field":"y","type":"quantitative","scale":{"domain":[0,1],"nice":false},"axis":{"orient":"left","values":[0.15,0.3,0.45,0.6,0.75,0.9],"labels":false,"title":null}},"detail":{"field":"s"}}},
 {"mark":{"type":"line","opacity":0},"encoding":{"x":{"field":"x","type":"quantitative","axis":{"orient":"top","values":[1,2,3,4,5,6,7,8],"labels":false,"title":null}},"y":{"field":"y","type":"quantitative","axis":{"orient":"right","values":[0.15,0.3,0.45,0.6,0.75,0.9],"labels":false,"title":"VO","titleColor":"#c8c81a","titleAngle":0,"titleAlign":"left","titleBaseline":"middle","titleX":14,"titleY":17,"titleFontSize":18}},"detail":{"field":"s"}}},
 {"mark":{"type":"rule","color":"#888","strokeWidth":2},"encoding":{"x":{"datum":4,"type":"quantitative","axis":null}}}]},
{"data":{"name":"C2H2"},"width":663,"height":35.47,"resolve":{"axis":{"x":"independent","y":"independent"}},"layer":[
 {"mark":{"type":"line","color":"#7d4a44","strokeWidth":1.6},"encoding":{"x":{"field":"x","type":"quantitative","scale":{"domain":[1,8],"nice":false},"axis":{"orient":"bottom","values":[1,2,3,4,5,6,7,8],"labels":false,"title":null}},"y":{"field":"y","type":"quantitative","scale":{"domain":[0,1],"nice":false},"axis":{"orient":"left","values":[0.15,0.3,0.45,0.6,0.75,0.9],"labels":false,"title":null}},"detail":{"field":"s"}}},
 {"mark":{"type":"line","opacity":0},"encoding":{"x":{"field":"x","type":"quantitative","axis":{"orient":"top","values":[1,2,3,4,5,6,7,8],"labels":false,"title":null}},"y":{"field":"y","type":"quantitative","axis":{"orient":"right","values":[0.15,0.3,0.45,0.6,0.75,0.9],"labels":false,"title":"C₂H₂","titleColor":"#7d4a44","titleAngle":0,"titleAlign":"left","titleBaseline":"middle","titleX":14,"titleY":17,"titleFontSize":18}},"detail":{"field":"s"}}},
 {"mark":{"type":"rule","color":"#888","strokeWidth":2},"encoding":{"x":{"datum":4,"type":"quantitative","axis":null}}}]},
{"data":{"name":"C2H4"},"width":663,"height":35.47,"resolve":{"axis":{"x":"independent","y":"independent"}},"layer":[
 {"mark":{"type":"line","color":"#ff1a8c","strokeWidth":1.6},"encoding":{"x":{"field":"x","type":"quantitative","scale":{"domain":[1,8],"nice":false},"axis":{"orient":"bottom","values":[1,2,3,4,5,6,7,8],"labels":false,"title":null}},"y":{"field":"y","type":"quantitative","scale":{"domain":[0,1],"nice":false},"axis":{"orient":"left","values":[0.15,0.3,0.45,0.6,0.75,0.9],"labels":false,"title":null}},"detail":{"field":"s"}}},
 {"mark":{"type":"line","opacity":0},"encoding":{"x":{"field":"x","type":"quantitative","axis":{"orient":"top","values":[1,2,3,4,5,6,7,8],"labels":false,"title":null}},"y":{"field":"y","type":"quantitative","axis":{"orient":"right","values":[0.15,0.3,0.45,0.6,0.75,0.9],"labels":false,"title":"C₂H₄","titleColor":"#ff1a8c","titleAngle":0,"titleAlign":"left","titleBaseline":"middle","titleX":14,"titleY":17,"titleFontSize":18}},"detail":{"field":"s"}}},
 {"mark":{"type":"rule","color":"#888","strokeWidth":2},"encoding":{"x":{"datum":4,"type":"quantitative","axis":null}}}]},
{"data":{"name":"C2H6"},"width":663,"height":35.47,"resolve":{"axis":{"x":"independent","y":"independent"}},"layer":[
 {"mark":{"type":"line","color":"#5af05a","strokeWidth":1.6},"encoding":{"x":{"field":"x","type":"quantitative","scale":{"domain":[1,8],"nice":false},"axis":{"orient":"bottom","values":[1,2,3,4,5,6,7,8],"labels":false,"title":null}},"y":{"field":"y","type":"quantitative","scale":{"domain":[0,1],"nice":false},"axis":{"orient":"left","values":[0.15,0.3,0.45,0.6,0.75,0.9],"labels":false,"title":null}},"detail":{"field":"s"}}},
 {"mark":{"type":"line","opacity":0},"encoding":{"x":{"field":"x","type":"quantitative","axis":{"orient":"top","values":[1,2,3,4,5,6,7,8],"labels":false,"title":null}},"y":{"field":"y","type":"quantitative","axis":{"orient":"right","values":[0.15,0.3,0.45,0.6,0.75,0.9],"labels":false,"title":"C₂H₆","titleColor":"#5af05a","titleAngle":0,"titleAlign":"left","titleBaseline":"middle","titleX":14,"titleY":17,"titleFontSize":18}},"detail":{"field":"s"}}},
 {"mark":{"type":"rule","color":"#888","strokeWidth":2},"encoding":{"x":{"datum":4,"type":"quantitative","axis":null}}}]},
{"data":{"name":"PH3"},"width":663,"height":35.47,"resolve":{"axis":{"x":"independent","y":"independent"}},"layer":[
 {"mark":{"type":"line","color":"#000000","strokeWidth":1.6},"encoding":{"x":{"field":"x","type":"quantitative","scale":{"domain":[1,8],"nice":false},"axis":{"orient":"bottom","values":[1,2,3,4,5,6,7,8],"labels":true,"labelPadding":5,"title":"Wavelength (μm)","titlePadding":4}},"y":{"field":"y","type":"quantitative","scale":{"domain":[0,1],"nice":false},"axis":{"orient":"left","values":[0.15,0.3,0.45,0.6,0.75,0.9],"labels":false,"title":"(Rₚ/Rₛ)²","titleFontSize":19,"titlePadding":22}},"detail":{"field":"s"}}},
 {"mark":{"type":"line","opacity":0},"encoding":{"x":{"field":"x","type":"quantitative","axis":{"orient":"top","values":[1,2,3,4,5,6,7,8],"labels":false,"title":null}},"y":{"field":"y","type":"quantitative","axis":{"orient":"right","values":[0.15,0.3,0.45,0.6,0.75,0.9],"labels":false,"title":"PH₃","titleColor":"#000000","titleAngle":0,"titleAlign":"left","titleBaseline":"middle","titleX":14,"titleY":17,"titleFontSize":18}},"detail":{"field":"s"}}},
 {"mark":{"type":"rule","color":"#888","strokeWidth":2},"encoding":{"x":{"datum":4,"type":"quantitative","axis":null}}}]}
]
}
